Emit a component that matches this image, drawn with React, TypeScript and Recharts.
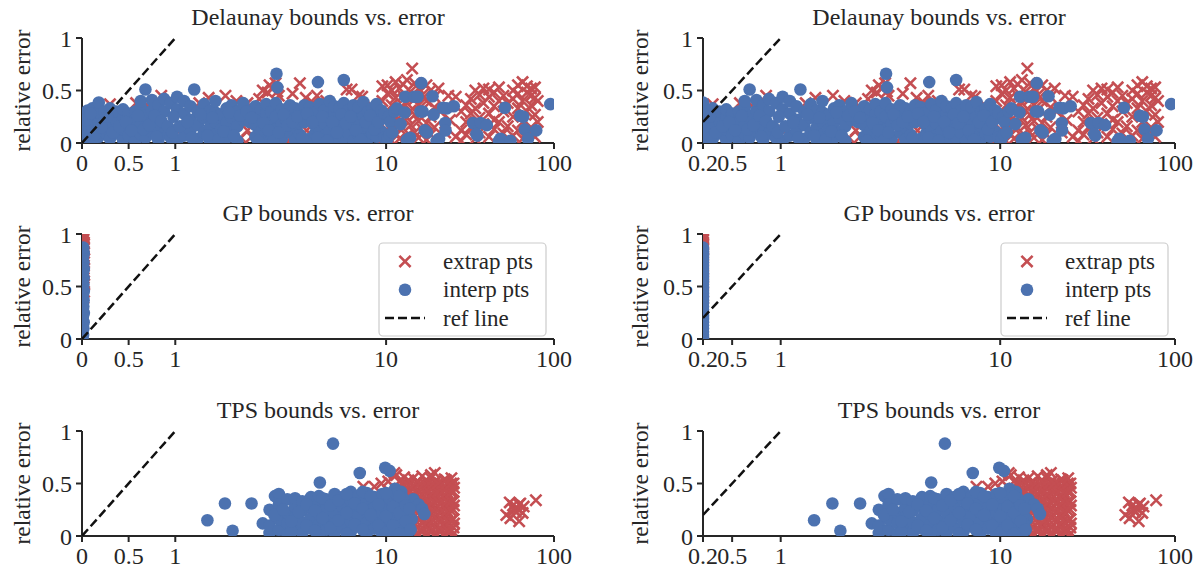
import React from 'react';
import { ScatterChart, Scatter, XAxis, YAxis } from 'recharts';

type Pt = [number, number];

// ---------- data (bound value, relative error) ----------
const delaunayInterp: Pt[] = [
  [0.02,0.03],[0.02,0.12],[0.02,0.2],[0.02,0.27],
  [0.06,0.08],[0.06,0.17],[0.06,0.25],[0.06,0.31],
  [0.11,0.02],[0.11,0.14],[0.11,0.22],[0.11,0.33],
  [0.18,0.06],[0.18,0.19],[0.18,0.29],[0.18,0.385],
  [0.24,0.1],[0.24,0.21],[0.24,0.3],
  [0.3,0.04],[0.3,0.15],[0.3,0.26],[0.3,0.33],
  [0.37,0.09],[0.37,0.2],[0.37,0.3],
  [0.44,0.03],[0.44,0.13],[0.44,0.24],[0.44,0.32],
  [0.5,0.07],[0.5,0.18],[0.5,0.28],
  [0.57,0.02],[0.57,0.12],[0.57,0.23],[0.57,0.3],
  [0.63,0.08],[0.63,0.17],[0.63,0.34],[0.63,0.4],
  [0.68,0.05],[0.68,0.26],[0.68,0.51],
  [0.75,0.11],[0.75,0.2],[0.75,0.31],[0.75,0.41],
  [0.82,0.03],[0.82,0.14],[0.82,0.36],
  [0.88,0.09],[0.88,0.3],[0.88,0.42],
  [0.95,0.05],[0.95,0.38],
  [1.02,0.02],[1.02,0.32],[1.02,0.44],
  [1.1,0.07],[1.1,0.28],[1.1,0.4],
  [1.18,0.12],[1.18,0.22],[1.18,0.35],[1.23,0.51],
  [1.28,0.04],[1.28,0.17],[1.28,0.3],
  [1.37,0.1],[1.37,0.24],[1.37,0.37],
  [1.46,0.02],[1.46,0.15],[1.46,0.31],
  [1.55,0.08],[1.55,0.2],[1.55,0.29],[1.55,0.4],
  [1.65,0.13],[1.65,0.27],
  [1.75,0.05],[1.75,0.19],[1.75,0.33],
  [1.85,0.1],[1.85,0.24],[1.85,0.36],
  [1.97,0.02],[1.97,0.16],[1.97,0.3],
  [2.1,0.22],[2.1,0.38],
  [2.25,0.2],[2.25,0.3],
  [2.4,0.06],[2.4,0.17],[2.4,0.27],[2.4,0.35],
  [2.55,0.11],[2.55,0.23],[2.55,0.32],
  [2.7,0.03],[2.7,0.15],[2.7,0.28],[2.7,0.37],
  [2.85,0.08],[2.85,0.2],[2.85,0.3],
  [3.0,0.13],[3.0,0.25],[3.0,0.38],[3.05,0.53],[3.02,0.66],
  [3.2,0.04],[3.2,0.18],[3.2,0.32],
  [3.35,0.22],
  [3.5,0.1],[3.5,0.27],[3.5,0.36],
  [3.7,0.03],[3.7,0.15],[3.7,0.24],[3.7,0.33],
  [3.9,0.08],[3.9,0.19],[3.9,0.3],
  [4.1,0.2],[4.1,0.36],
  [4.35,0.04],[4.35,0.26],[4.35,0.34],
  [4.6,0.09],[4.6,0.17],[4.6,0.29],[4.75,0.58],
  [4.85,0.02],[4.85,0.13],[4.85,0.22],[4.85,0.37],
  [5.1,0.07],[5.1,0.19],[5.1,0.31],
  [5.4,0.11],[5.4,0.25],[5.4,0.4],
  [5.7,0.03],[5.7,0.16],[5.7,0.28],[5.7,0.35],
  [6.0,0.09],[6.0,0.21],[6.0,0.33],
  [6.3,0.05],[6.3,0.14],[6.3,0.26],[6.3,0.38],[6.3,0.6],
  [6.6,0.1],[6.6,0.2],[6.6,0.31],
  [7.0,0.02],[7.0,0.17],[7.0,0.29],[7.0,0.36],
  [7.4,0.08],[7.4,0.22],[7.4,0.34],
  [7.8,0.12],[7.8,0.25],[7.8,0.39],
  [8.2,0.04],[8.2,0.16],[8.2,0.3],
  [8.6,0.09],[8.6,0.2],[8.6,0.33],
  [9.0,0.06],[9.0,0.14],[9.0,0.27],[9.0,0.37],
  [9.5,0.11],[9.5,0.23],[9.5,0.31],
  [0.04,0.22],[0.09,0.28],[0.14,0.08],[0.21,0.15],[0.27,0.25],[0.33,0.1],[0.4,0.16],[0.47,0.2],
  [0.53,0.12],[0.6,0.26],[0.66,0.13],[0.72,0.17],[0.78,0.26],[0.8,0.06],[0.85,0.21],[0.92,0.16],
  [0.98,0.25],[0.97,0.1],[1.05,0.16],[1.14,0.2],[1.2,0.05],[1.32,0.27],[1.42,0.07],[1.5,0.24],
  [1.6,0.03],[1.7,0.11],[1.8,0.29],[1.9,0.07],[2.03,0.26],[2.18,0.3],[2.3,0.24],[2.47,0.02],
  [2.62,0.19],[2.78,0.12],[2.93,0.02],[3.1,0.1],[3.27,0.27],[3.42,0.17],[3.6,0.2],[3.8,0.25],
  [4.0,0.05],[4.22,0.28],[4.48,0.2],[4.72,0.05],[5.0,0.25],[5.25,0.02],[5.55,0.2],[5.85,0.1],
  [6.15,0.27],[6.45,0.19],[6.8,0.25],[7.2,0.12],[7.6,0.03],[8.0,0.2],[8.4,0.26],[8.8,0.13],
  [9.2,0.2],[9.8,0.05],[9.8,0.28],[10.4,0.25],
  [10.2,0.04],[10.5,0.08],[10.6,0.2],[10.9,0.1],[11.2,0.3],[11.6,0.33],[12.2,0.18],
  [12.9,0.29],[13,0.44],[13.3,0.03],[13.9,0.05],[14.7,0.44],[15.4,0.44],[16,0.3],
  [16.2,0.57],[16.5,0.3],[17,0.12],[17.5,0.1],[18.9,0.445],[19.2,0.27],[20,0.02],
  [20.7,0.04],[21.8,0.335],[22.5,0.19],[22.6,0.12],[23,0.33],[25.3,0.35],[33,0.19],
  [35,0.07],[36.5,0.19],[34.5,0.085],[39.8,0.17],[47,0.02],[48,0.04],[51,0.335],
  [55,0.02],[63,0.26],[65.6,0.25],[67,0.13],[70,0.04],[78.4,0.12],[95,0.37],
];

const delaunayExtrap: Pt[] = [
  [0.15,0.3],[0.3,0.37],[0.4,0.3],[0.58,0.38],[0.7,0.36],[0.85,0.45],[1.0,0.03],[1.05,0.12],
  [1.3,0.38],[1.44,0.43],[1.73,0.45],[1.95,0.4],[2.05,0.05],[2.2,0.12],[2.2,0.38],[2.3,0.06],
  [2.5,0.42],[2.6,0.5],[2.74,0.48],[2.8,0.55],[2.9,0.52],[2.99,0.57],[3.05,0.49],[3.1,0.45],
  [3.4,0.02],[3.6,0.47],[3.9,0.57],[4.16,0.43],[4.2,0.12],[4.5,0.38],[4.7,0.45],[5.2,0.4],
  [5.5,0.33],[5.9,0.02],[6.5,0.51],[6.86,0.51],[7.4,0.45],[7.7,0.44],[8.6,0.35],[8.8,0.05],
  [9.6,0.05],[9.6,0.22],[9.6,0.4],[9.6,0.54],
  [10.2,0.12],[10.2,0.3],[10.2,0.47],[10.2,0.55],
  [10.8,0.02],[10.8,0.18],[10.8,0.36],[10.8,0.5],
  [11.4,0.09],[11.4,0.26],[11.4,0.43],[11.4,0.58],
  [12.0,0.04],[12.0,0.2],[12.0,0.33],[12.0,0.52],
  [12.6,0.14],[12.6,0.28],[12.6,0.45],[12.6,0.56],
  [13.3,0.07],[13.3,0.24],[13.3,0.38],[13.3,0.6],
  [14.0,0.02],[14.0,0.17],[14.0,0.31],[14.0,0.49],[14.3,0.71],
  [14.8,0.1],[14.8,0.27],[14.8,0.42],[14.8,0.57],
  [15.6,0.05],[15.6,0.21],[15.6,0.36],[15.6,0.52],
  [16.5,0.13],[16.5,0.32],[16.5,0.46],
  [17.4,0.03],[17.4,0.19],[17.4,0.4],[17.4,0.55],
  [18.4,0.08],[18.4,0.25],[18.4,0.5],
  [19.4,0.15],[19.4,0.34],[19.4,0.44],
  [20.5,0.52],[21,0.3],[22.5,0.1],[23.5,0.45],[24,0.22],
  [26,0.44],[26,0.06],[28,0.02],[28,0.12],[28,0.3],[30,0.08],[30,0.36],[30,0.2],
  [32,0.15],[32,0.42],[32,0.28],[34,0.04],[34,0.33],[34,0.5],[36,0.1],[36,0.24],[36,0.46],
  [38,0.18],[38,0.38],[38,0.52],[41,0.06],[41,0.28],[41,0.51],[41,0.44],
  [44,0.13],[44,0.35],[44,0.48],[44,0.22],[47,0.2],[47,0.4],[47,0.53],
  [50,0.09],[50,0.3],[50,0.45],[53,0.16],[53,0.38],[53,0.03],
  [57,0.07],[57,0.25],[57,0.42],[57,0.5],[61,0.12],[61,0.33],[61,0.47],[61,0.55],
  [65,0.04],[65,0.2],[65,0.4],[65,0.58],[69,0.1],[69,0.3],[69,0.48],[69,0.54],
  [73,0.15],[73,0.36],[73,0.45],[73,0.52],[77,0.06],[77,0.27],[77,0.43],[77,0.53],
  [80,0.4],[80,0.2],
];

const gpInterp: Pt[] = [
  [0.005,0.01],[0.012,0.04],[0.003,0.07],[0.015,0.1],[0.008,0.13],[0.018,0.16],[0.004,0.19],
  [0.011,0.22],[0.02,0.25],[0.006,0.28],[0.014,0.31],[0.009,0.34],[0.017,0.37],[0.004,0.4],
  [0.012,0.43],[0.02,0.46],[0.007,0.49],[0.015,0.52],[0.01,0.55],[0.018,0.58],[0.005,0.61],
  [0.013,0.64],[0.02,0.67],[0.008,0.7],[0.016,0.73],[0.006,0.76],[0.012,0.79],[0.018,0.82],
  [0.009,0.85],[0.014,0.87],
];

const gpExtrap: Pt[] = [
  [0.015,0.3],[0.022,0.45],[0.024,0.52],[0.018,0.58],[0.022,0.64],[0.02,0.7],[0.024,0.76],
  [0.022,0.82],[0.02,0.86],[0.018,0.88],[0.01,0.9],[0.02,0.92],[0.012,0.94],[0.022,0.96],
  [0.008,0.98],[0.018,1.0],[0.022,0.99],[0.01,0.95],
];

const tpsInterp: Pt[] = [
  [1.42,0.15],[1.72,0.31],[1.87,0.05],[2.3,0.31],[2.6,0.12],[2.97,0.38],[3.1,0.4],[5.6,0.88],
  [4.85,0.51],[7.5,0.6],[9.9,0.65],[10.5,0.62],[11.3,0.45],[12.3,0.42],[14.5,0.35],[15.6,0.3],
  [16.4,0.26],[16.9,0.21],[14.2,0.16],[13.5,0.1],
  [2.8,0.03],[2.8,0.1],[2.8,0.25],
  [3.1,0.06],[3.1,0.16],[3.1,0.3],
  [3.4,0.02],[3.4,0.12],[3.4,0.22],[3.4,0.35],
  [3.7,0.08],[3.7,0.18],[3.7,0.28],[3.7,0.36],
  [4.0,0.03],[4.0,0.13],[4.0,0.24],[4.0,0.33],
  [4.4,0.07],[4.4,0.17],[4.4,0.27],[4.4,0.37],
  [4.8,0.02],[4.8,0.11],[4.8,0.21],[4.8,0.31],[4.8,0.38],
  [5.2,0.06],[5.2,0.15],[5.2,0.25],[5.2,0.35],
  [5.7,0.03],[5.7,0.12],[5.7,0.22],[5.7,0.32],[5.7,0.4],
  [6.2,0.08],[6.2,0.18],[6.2,0.28],[6.2,0.37],
  [6.8,0.04],[6.8,0.14],[6.8,0.24],[6.8,0.34],[6.8,0.42],
  [7.4,0.09],[7.4,0.19],[7.4,0.29],[7.4,0.38],
  [8.1,0.03],[8.1,0.13],[8.1,0.23],[8.1,0.33],[8.1,0.41],
  [8.8,0.07],[8.8,0.17],[8.8,0.27],[8.8,0.37],
  [9.6,0.02],[9.6,0.12],[9.6,0.22],[9.6,0.32],[9.6,0.4],
  [10.5,0.06],[10.5,0.16],[10.5,0.26],[10.5,0.36],
  [11.5,0.03],[11.5,0.11],[11.5,0.2],[11.5,0.3],[11.5,0.4],
  [12.6,0.07],[12.6,0.17],[12.6,0.27],[12.6,0.36],
  [13.6,0.04],[13.6,0.12],[13.6,0.2],
  [2.95,0.2],[3.25,0.25],[3.55,0.04],[3.55,0.14],[3.85,0.23],[4.2,0.1],[4.2,0.3],[4.6,0.05],
  [4.6,0.24],[5.0,0.17],[5.0,0.36],[5.45,0.08],[5.45,0.29],[5.95,0.15],[5.95,0.34],[6.5,0.02],
  [6.5,0.22],[6.5,0.4],[7.1,0.11],[7.1,0.31],[7.75,0.06],[7.75,0.26],[7.75,0.42],[8.45,0.2],
  [8.45,0.38],[9.2,0.1],[9.2,0.3],[10.0,0.03],[10.0,0.19],[10.0,0.41],[11.0,0.1],[11.0,0.28],
  [12.0,0.02],[12.0,0.22],[12.0,0.38],[13.1,0.14],[13.1,0.29],[14.0,0.06],[13.8,0.26],
];

const tpsExtrap: Pt[] = [
  [7.8,0.47],[8.8,0.47],[9.5,0.5],[10.3,0.52],[11.5,0.58],[8.5,0.3],[9.2,0.1],[10,0.2],[11,0.4],[11,0.05],
  [12.0,0.02],[12.0,0.1],[12.0,0.2],[12.0,0.28],[12.0,0.37],[12.0,0.45],[12.0,0.52],
  [12.8,0.05],[12.8,0.14],[12.8,0.23],[12.8,0.32],[12.8,0.4],[12.8,0.49],[12.8,0.56],
  [13.6,0.01],[13.6,0.09],[13.6,0.18],[13.6,0.27],[13.6,0.35],[13.6,0.44],[13.6,0.53],
  [14.5,0.04],[14.5,0.12],[14.5,0.21],[14.5,0.3],[14.5,0.39],[14.5,0.47],[14.5,0.55],
  [15.4,0.02],[15.4,0.08],[15.4,0.17],[15.4,0.25],[15.4,0.34],[15.4,0.43],[15.4,0.51],
  [16.4,0.05],[16.4,0.13],[16.4,0.22],[16.4,0.31],[16.4,0.4],[16.4,0.48],[16.4,0.57],
  [17.4,0.01],[17.4,0.1],[17.4,0.19],[17.4,0.27],[17.4,0.36],[17.4,0.45],[17.4,0.53],
  [18.5,0.04],[18.5,0.12],[18.5,0.21],[18.5,0.29],[18.5,0.38],[18.5,0.46],[18.5,0.55],[18.5,0.58],
  [19.7,0.02],[19.7,0.09],[19.7,0.18],[19.7,0.26],[19.7,0.35],[19.7,0.44],[19.7,0.52],
  [21.0,0.05],[21.0,0.14],[21.0,0.23],[21.0,0.32],[21.0,0.41],[21.0,0.5],
  [22.3,0.01],[22.3,0.1],[22.3,0.19],[22.3,0.28],[22.3,0.37],[22.3,0.46],[22.3,0.54],
  [23.7,0.03],[23.7,0.12],[23.7,0.21],[23.7,0.3],[23.7,0.39],[23.7,0.48],
  [25.2,0.02],[25.2,0.08],[25.2,0.16],[25.2,0.25],[25.2,0.33],[25.2,0.42],[25.2,0.5],
  [12.4,0.06],[12.4,0.15],[12.4,0.24],[12.4,0.33],[12.4,0.42],[12.4,0.5],
  [13.2,0.06],[13.2,0.15],[13.2,0.24],[13.2,0.33],[13.2,0.42],[13.2,0.5],
  [14.0,0.06],[14.0,0.15],[14.0,0.24],[14.0,0.33],[14.0,0.42],[14.0,0.5],
  [14.9,0.06],[14.9,0.15],[14.9,0.24],[14.9,0.33],[14.9,0.42],[14.9,0.5],
  [15.9,0.06],[15.9,0.15],[15.9,0.24],[15.9,0.33],[15.9,0.42],[15.9,0.5],
  [16.9,0.06],[16.9,0.15],[16.9,0.24],[16.9,0.33],[16.9,0.42],[16.9,0.5],
  [17.9,0.06],[17.9,0.15],[17.9,0.24],[17.9,0.33],[17.9,0.42],[17.9,0.5],
  [19.1,0.06],[19.1,0.15],[19.1,0.24],[19.1,0.33],[19.1,0.42],[19.1,0.5],
  [20.3,0.06],[20.3,0.15],[20.3,0.24],[20.3,0.33],[20.3,0.42],[20.3,0.5],
  [21.6,0.06],[21.6,0.15],[21.6,0.24],[21.6,0.33],[21.6,0.42],[21.6,0.5],
  [23.0,0.06],[23.0,0.15],[23.0,0.24],[23.0,0.33],[23.0,0.42],[23.0,0.5],
  [24.4,0.06],[24.4,0.15],[24.4,0.24],[24.4,0.33],[24.4,0.42],[24.4,0.5],
  [25.4,0.12],[25.4,0.29],[25.4,0.46],
  [11.2,0.6],[19.5,0.6],[22.8,0.53],[24.5,0.55],
  [54.5,0.32],[57,0.29],[60,0.27],[62,0.3],[63,0.31],[58,0.25],[52,0.2],[55,0.17],[62,0.14],
  [65,0.22],[59,0.23],[78,0.34],[66,0.28],
];

const refLineLeft: Pt[] = [[0, 0], [1, 1]];
const refLineRight: Pt[] = [[0.2, 0.2], [1, 1]];

const xTicksLeft = [0, 0.5, 1, 10, 100];
const xTicksRight = [0.2, 0.5, 1, 10, 100];
const yTicks = [0, 0.5, 1];

const titles = ['Delaunay bounds vs. error', 'GP bounds vs. error', 'TPS bounds vs. error'];
const yLabel = 'relative error';
const legendLabels = ['extrap pts', 'interp pts', 'ref line'];

const panels: { interp: Pt[]; extrap: Pt[] }[] = [
  { interp: delaunayInterp, extrap: delaunayExtrap },
  { interp: gpInterp, extrap: gpExtrap },
  { interp: tpsInterp, extrap: tpsExtrap },
];

// ---------- styling / scale ----------
const RED = '#C44E52';
const BLUE = '#4C72B0';
const INK = '#262626';
const FONT = "'Liberation Serif', 'DejaVu Serif', serif";

const DEC1 = 2.26;
const DEC2 = 1.8;
const g = (x: number) =>
  x <= 1 ? x : x <= 10 ? 1 + DEC1 * Math.log10(x) : 1 + DEC1 + DEC2 * Math.log10(x / 10);

const ROW_TOPS = [38, 234, 431];
const PLOT_H = 105;
const M_TOP = 20;
const X_AXIS_H = 40;
const CHART_H = M_TOP + PLOT_H + X_AXIS_H;
const COLS = [
  { divLeft: 0, width: 580, yAxisWidth: 82, marginRight: 26, xMin: 0, ticks: xTicksLeft, ref: refLineLeft, plotL: 82, plotR: 554, ylabX: 22, legendX: 379 },
  { divLeft: 600, width: 594, yAxisWidth: 103, marginRight: 19, xMin: 0.2, ticks: xTicksRight, ref: refLineRight, plotL: 703, plotR: 1175, ylabX: 640, legendX: 1001 },
];

const XS = 5.6;
const XMark = (p: any) => {
  const { cx, cy } = p;
  if (cx == null || cy == null) return <g />;
  return (
    <path
      d={`M${cx - XS},${cy - XS}L${cx + XS},${cy + XS}M${cx - XS},${cy + XS}L${cx + XS},${cy - XS}`}
      stroke={RED}
      strokeWidth={2.6}
      fill="none"
    />
  );
};

const Dot = (p: any) => {
  const { cx, cy } = p;
  if (cx == null || cy == null) return <g />;
  return <circle cx={cx} cy={cy} r={6.3} fill={BLUE} />;
};

const Empty = () => <g />;

function Panel({ col, row }: { col: number; row: number }) {
  const c = COLS[col];
  const d = panels[row];
  const toRow = (p: Pt) => ({ u: g(Math.max(p[0], c.xMin)), y: p[1] });
  const redData = d.extrap.map(toRow);
  const blueData = d.interp.map(toRow);
  const refData = c.ref.map(toRow);
  const tickUs = c.ticks.map(g);
  const fmtX = (u: number) => {
    const i = tickUs.findIndex((t) => Math.abs(t - u) < 1e-6);
    return i >= 0 ? String(c.ticks[i]) : '';
  };
  return (
    <div style={{ position: 'absolute', left: c.divLeft, top: ROW_TOPS[row] - M_TOP, width: c.width, height: CHART_H }}>
      <ScatterChart width={c.width} height={CHART_H} margin={{ top: M_TOP, right: c.marginRight, bottom: 0, left: 0 }}>
        <XAxis
          type="number"
          dataKey="u"
          domain={[g(c.xMin), g(100)]}
          ticks={tickUs}
          interval={0}
          allowDataOverflow
          height={X_AXIS_H}
          tickSize={6}
          tickMargin={5}
          tickFormatter={fmtX}
          stroke={INK}
          axisLine={{ stroke: INK, strokeWidth: 2 }}
          tickLine={{ stroke: INK, strokeWidth: 2 }}
          tick={{ fill: INK, fontSize: 24, fontFamily: FONT }}
        />
        <YAxis
          type="number"
          dataKey="y"
          domain={[0, 1]}
          ticks={yTicks}
          interval={0}
          allowDataOverflow
          width={c.yAxisWidth}
          tickSize={6}
          tickMargin={4}
          tickFormatter={(v: number) => String(v)}
          stroke={INK}
          axisLine={{ stroke: INK, strokeWidth: 2 }}
          tickLine={{ stroke: INK, strokeWidth: 2 }}
          tick={{ fill: INK, fontSize: 24, fontFamily: FONT }}
        />
        <Scatter data={redData} shape={XMark} isAnimationActive={false} />
        <Scatter data={blueData} shape={Dot} isAnimationActive={false} />
        <Scatter
          data={refData}
          shape={Empty}
          fill="#111111"
          line={{ stroke: '#111111', strokeWidth: 2.5, strokeDasharray: '9 4' }}
          isAnimationActive={false}
        />
      </ScatterChart>
    </div>
  );
}

function LegendBox({ x, y }: { x: number; y: number }) {
  const w = 167;
  const h = 93;
  const rows = [18.4, 46.7, 75];
  const mx = x + 26;
  const y0 = y + rows[0];
  return (
    <g>
      <rect x={x} y={y} width={w} height={h} rx={4} fill="rgba(255,255,255,0.85)" stroke="#cccccc" strokeWidth={1.2} />
      <path
        d={`M${mx - XS},${y0 - XS}L${mx + XS},${y0 + XS}M${mx - XS},${y0 + XS}L${mx + XS},${y0 - XS}`}
        stroke={RED}
        strokeWidth={2.6}
      />
      <circle cx={mx} cy={y + rows[1]} r={6.3} fill={BLUE} />
      <line x1={x + 6} x2={x + 46} y1={y + rows[2]} y2={y + rows[2]} stroke="#111111" strokeWidth={2.5} strokeDasharray="9 4" />
      {legendLabels.map((t, i) => (
        <text key={t} x={x + 64} y={y + rows[i]} dominantBaseline="central" fontSize={23} fontFamily={FONT} fill={INK}>
          {t}
        </text>
      ))}
    </g>
  );
}

export default function App() {
  return (
    <div style={{ position: 'absolute', left: 0, top: 0, width: 1194, height: 571, background: '#fff' }}>
      {[0, 1, 2].map((r) => [0, 1].map((c) => <Panel key={`${r}-${c}`} row={r} col={c} />))}
      <svg width={1194} height={571} style={{ position: 'absolute', left: 0, top: 0, pointerEvents: 'none' }}>
        {[0, 1, 2].map((r) =>
          COLS.map((c, ci) => (
            <g key={`${r}-${ci}`}>
              <text
                x={(c.plotL + c.plotR) / 2}
                y={ROW_TOPS[r] - 13}
                textAnchor="middle"
                fontSize={24}
                fontFamily={FONT}
                fill={INK}
              >
                {titles[r]}
              </text>
              <text
                x={c.ylabX}
                y={ROW_TOPS[r] + PLOT_H / 2}
                textAnchor="middle"
                dominantBaseline="central"
                transform={`rotate(-90 ${c.ylabX} ${ROW_TOPS[r] + PLOT_H / 2})`}
                fontSize={23.5}
                fontFamily={FONT}
                fill={INK}
              >
                {yLabel}
              </text>
            </g>
          ))
        )}
        {COLS.map((c, ci) => (
          <LegendBox key={ci} x={c.legendX} y={243} />
        ))}
      </svg>
    </div>
  );
}
